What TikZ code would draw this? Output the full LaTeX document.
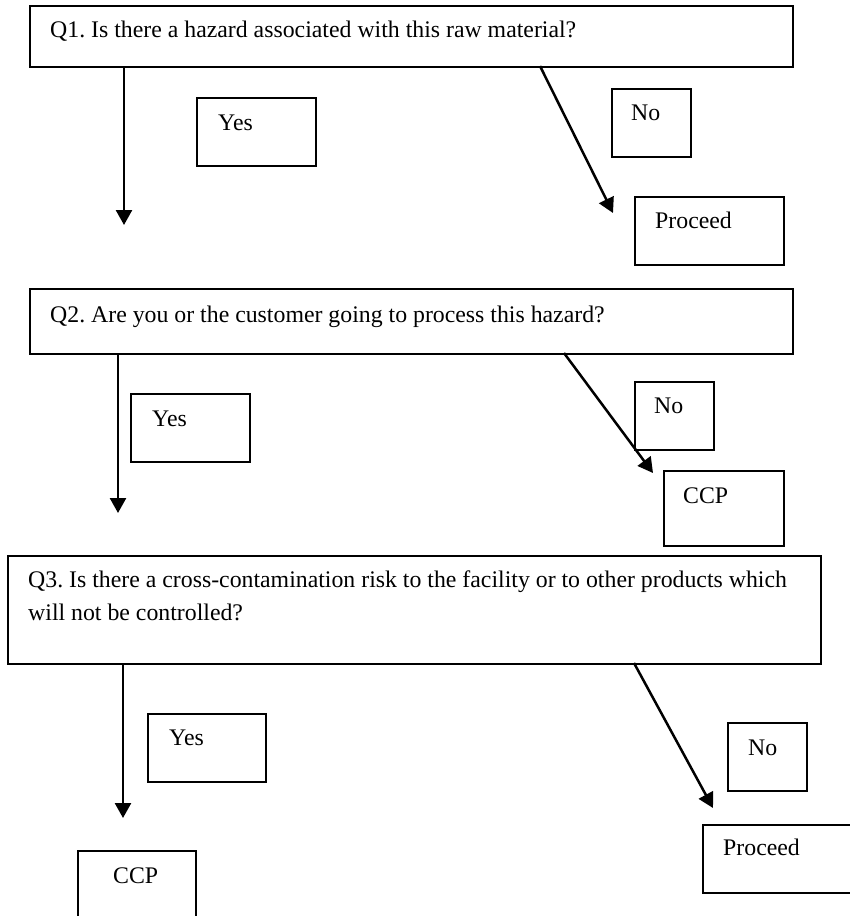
\documentclass[tikz,border=0pt]{standalone}
\usepackage{fontspec}
\setmainfont{Liberation Serif}
\usetikzlibrary{arrows.meta}
\frenchspacing
\begin{document}
\begin{tikzpicture}[x=1pt,y=-1pt,
  box/.style={draw, line width=1.5pt, inner sep=0pt, anchor=north west},
  lbl/.style={anchor=base west, inner sep=0pt, font=\fontsize{23.8}{33}\selectfont},
  arr/.style={line width=2.5pt, -{Triangle[length=15pt,width=16pt]}}]
\useasboundingbox (0,0) rectangle (850,916);
% ---- Q1 ----
\node[box, minimum width=763pt, minimum height=61pt] (q1) at (29,5) {};
\node[lbl] (q1t) at (50,37) {Q1. Is there a hazard associated with this raw material?};
\node[box, minimum width=119pt, minimum height=68pt] (y1) at (196,97) {};
\node[lbl] (y1t) at (218,130) {Yes};
\node[box, minimum width=79pt, minimum height=68pt] (n1) at (611,88) {};
\node[lbl] (n1t) at (631,120) {No};
\node[box, minimum width=149pt, minimum height=68pt] (p1) at (634,196) {};
\node[lbl] (p1t) at (655,228) {Proceed};
\coordinate (a1s) at (124,66);
\coordinate (a1e) at (124,225);
\coordinate (b1s) at (540,66);
\coordinate (b1e) at (613,213);
\draw[arr] (a1s) -- (a1e);
\draw[arr] (b1s) -- (b1e);
% ---- Q2 ----
\node[box, minimum width=763pt, minimum height=65pt] (q2) at (29,288) {};
\node[lbl] (q2t) at (50,322) {Q2. Are you or the customer going to process this hazard?};
\node[box, minimum width=119pt, minimum height=68pt] (y2) at (130,393) {};
\node[lbl] (y2t) at (152,426) {Yes};
\node[box, minimum width=79pt, minimum height=68pt] (n2) at (634,381) {};
\node[lbl] (n2t) at (654,413) {No};
\node[box, minimum width=120pt, minimum height=75pt] (c2) at (663,470) {};
\node[lbl] (c2t) at (683,503) {CCP};
\coordinate (a2s) at (118,353);
\coordinate (a2e) at (118,513);
\coordinate (b2s) at (564,353);
\coordinate (b2e) at (653,473);
\draw[arr] (a2s) -- (a2e);
\draw[arr] (b2s) -- (b2e);
% ---- Q3 ----
\node[box, minimum width=813pt, minimum height=108pt] (q3) at (7,555) {};
\node[lbl] (q3t) at (28,587) {Q3. Is there a cross-contamination risk to the facility or to other products which};
\node[lbl] (q3u) at (28,620) {will not be controlled?};
\node[box, minimum width=118pt, minimum height=68pt] (y3) at (147,713) {};
\node[lbl] (y3t) at (169,745) {Yes};
\node[box, minimum width=79pt, minimum height=68pt] (n3) at (727,722) {};
\node[lbl] (n3t) at (748,755) {No};
\node[box, minimum width=160pt, minimum height=68pt] (p3) at (702,824) {};
\node[lbl] (p3t) at (723,855) {Proceed};
\node[box, minimum width=118pt, minimum height=80pt] (c3) at (77,850) {};
\node[lbl] (c3t) at (113,883) {CCP};
\coordinate (a3s) at (123,663);
\coordinate (a3e) at (123,818);
\coordinate (b3s) at (634,663);
\coordinate (b3e) at (713,808);
\draw[arr] (a3s) -- (a3e);
\draw[arr] (b3s) -- (b3e);
\end{tikzpicture}
\end{document}
